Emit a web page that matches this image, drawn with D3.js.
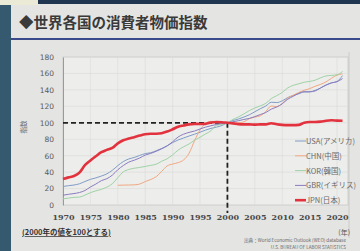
<!DOCTYPE html>
<html>
<head>
<meta charset="utf-8">
<script src="https://cdn.jsdelivr.net/npm/d3@7"></script>
<style>
  body { margin: 0; padding: 0; background: #e4e4e2; }
  svg { display: block; font-family: "Noto Sans CJK JP", "DejaVu Sans", sans-serif; }
</style>
</head>
<body>
<svg id="chart" width="360" height="251"></svg>
<script>
// consumer price index, 2000 = 100
const years = d3.range(1970, 2022);
const chnYears = d3.range(1980, 2022);

const usa = [22.5, 23.5, 24.3, 25.8, 28.6, 31.2, 33.0, 35.2, 37.9, 42.2,
             47.9, 52.8, 56.0, 57.8, 60.3, 62.5, 63.6, 66.0, 68.7, 72.0,
             75.9, 79.1, 81.5, 83.9, 86.1, 88.5, 91.1, 93.2, 94.7, 96.7,
             100, 102.8, 104.5, 106.9, 109.7, 113.4, 117.1, 120.4, 125.0, 124.6,
             126.7, 130.6, 133.3, 135.3, 137.5, 137.6, 139.4, 142.3, 145.8, 148.5,
             150.3, 157.4];
const chn = [24.0, 24.2, 24.3, 24.5, 25.5, 28.5, 31.0, 34.4, 40.9, 47.5,
             49.8, 51.5, 54.8, 62.9, 78.1, 91.4, 99.0, 101.8, 101.0, 99.6,
             100, 100.7, 99.9, 101.1, 105.0, 106.9, 108.5, 113.7, 120.4, 119.6,
             123.5, 130.0, 133.4, 136.9, 139.5, 141.5, 144.4, 146.7, 149.8, 154.2,
             158.0, 159.4];
const kor = [7.4, 8.4, 9.3, 9.6, 12.0, 15.0, 17.3, 19.0, 21.8, 25.8,
             33.2, 40.3, 43.2, 44.7, 45.7, 46.9, 48.2, 49.6, 53.2, 56.2,
             61.0, 66.7, 70.8, 74.2, 78.8, 82.4, 86.4, 90.2, 97.0, 97.8,
             100, 104.1, 107.0, 110.8, 114.8, 118.0, 120.6, 123.6, 129.4, 133.0,
             136.9, 142.4, 145.5, 147.4, 149.3, 150.3, 151.8, 154.7, 157.0, 157.6,
             158.4, 162.4];
const gbr = [11.9, 13.0, 13.9, 15.2, 17.6, 21.9, 25.5, 29.6, 32.0, 36.3,
             42.9, 48.0, 52.1, 54.5, 57.2, 60.7, 62.7, 65.3, 68.3, 71.9,
             76.9, 82.7, 86.1, 88.3, 90.0, 92.4, 94.7, 96.4, 97.9, 99.2,
             100, 101.2, 102.5, 104.0, 105.3, 107.5, 110.0, 112.5, 116.6, 119.2,
             123.1, 128.6, 132.2, 135.7, 137.7, 137.7, 138.7, 142.4, 146.0, 148.6,
             149.9, 153.8];
const jpn = [31.7, 33.6, 35.2, 39.3, 48.4, 54.2, 59.3, 64.2, 67.0, 69.4,
             75.0, 78.7, 80.9, 82.5, 84.4, 86.1, 86.6, 86.7, 87.3, 89.3,
             92.1, 95.2, 96.7, 98.1, 98.7, 98.6, 98.7, 100.4, 101.0, 100.7,
             100, 99.3, 98.4, 98.1, 98.1, 97.7, 98.1, 98.1, 99.5, 98.2,
             97.4, 97.1, 97.1, 97.4, 100.1, 101.0, 100.9, 101.4, 102.5, 103.0,
             102.6, 102.4];

const seriesNames = ["USA(アメリカ)", "CHN(中国)", "KOR(韓国)", "GBR(イギリス)", "JPN(日本)"];
const seriesColors = ["#7f9cc8", "#f0a882", "#9fd2a6", "#8a7cc0", "#e2323e"];
const xTicks = d3.range(1970, 2021, 5);
const yTicks = d3.range(0, 181, 20);

const series = [
    {name: seriesNames[0], yrs: years, vals: usa, color: seriesColors[0], w: 1},
    {name: seriesNames[1], yrs: chnYears, vals: chn, color: seriesColors[1], w: 1},
    {name: seriesNames[2], yrs: years, vals: kor, color: seriesColors[2], w: 1},
    {name: seriesNames[3], yrs: years, vals: gbr, color: seriesColors[3], w: 1},
    {name: seriesNames[4], yrs: years, vals: jpn, color: seriesColors[4], w: 2.6}
];

var svg = d3.select("#chart");

// slide background
svg.append("rect").attr("width", 360).attr("height", 251).attr("fill", "#e4e4e2");
svg.append("rect").attr("x", 0).attr("y", 0).attr("width", 40).attr("height", 5).attr("fill", "#ebead6");
svg.append("rect").attr("x", 38).attr("y", 0).attr("width", 322).attr("height", 4).attr("fill", "#1f3550");
svg.append("rect").attr("x", 0).attr("y", 5).attr("width", 11).attr("height", 246).attr("fill", "#35596f");
svg.append("rect").attr("x", 11).attr("y", 38).attr("width", 349).attr("height", 2).attr("fill", "#3b4a8a");

// title
svg.append("text")
    .attr("x", 19).attr("y", 28)
    .attr("font-size", 14.5).attr("font-weight", "bold")
    .attr("fill", "#3a3a3a")
    .text("◆世界各国の消費者物価指数");

var x = d3.scaleLinear().domain([1970, 2022]).range([63, 348]);
var y = d3.scaleLinear().domain([0, 180]).range([205, 57]);

// plot area
svg.append("rect")
    .attr("x", x(1970)).attr("y", y(180))
    .attr("width", x(2022) - x(1970)).attr("height", y(0) - y(180))
    .attr("fill", "#ededeb").attr("stroke", "#c8c8c8").attr("stroke-width", 0.8);

// frame line on the right
svg.append("line")
    .attr("x1", 349).attr("x2", 349).attr("y1", 52).attr("y2", 238)
    .attr("stroke", "#c4c4c4").attr("stroke-width", 0.8);

// grid
svg.append("g").selectAll("line")
    .data(yTicks.slice(1))
    .enter().append("line")
      .attr("x1", x(1970)).attr("x2", x(2022))
      .attr("y1", d => y(d)).attr("y2", d => y(d))
      .attr("stroke", "#dadada").attr("stroke-width", 0.6);
svg.append("g").selectAll("line")
    .data(xTicks.slice(1))
    .enter().append("line")
      .attr("x1", d => x(d)).attr("x2", d => x(d))
      .attr("y1", y(180)).attr("y2", y(0))
      .attr("stroke", "#dadada").attr("stroke-width", 0.6);

// axes
var yAxis = svg.append("g")
    .attr("transform", "translate(" + x(1970) + ",0)")
    .call(d3.axisLeft(y).tickValues(yTicks).tickSize(0).tickPadding(9));
yAxis.select(".domain").attr("stroke", "#9a9a9a").attr("stroke-width", 1);
yAxis.selectAll("text").attr("font-size", 7.5).attr("fill", "#5a5a5a")
    .attr("font-family", "DejaVu Sans");

var xAxis = svg.append("g")
    .attr("transform", "translate(0," + y(0) + ")")
    .call(d3.axisBottom(x).tickValues(xTicks).tickFormat(d3.format("d")).tickSize(0).tickPadding(9));
xAxis.select(".domain").remove();
xAxis.selectAll("text").attr("font-size", 8).attr("font-weight", "bold").attr("fill", "#4a4a4a")
    .attr("font-family", "DejaVu Serif");

// y label
svg.append("text")
    .attr("transform", "translate(26,127) rotate(-90)")
    .attr("text-anchor", "middle")
    .attr("font-size", 6.5).attr("fill", "#666")
    .text("指数");

// reference dashed lines at 2000 = 100
svg.append("line")
    .attr("x1", x(1970)).attr("x2", x(2000))
    .attr("y1", y(100)).attr("y2", y(100))
    .attr("stroke", "#222").attr("stroke-width", 1.8).attr("stroke-dasharray", "5,3");
svg.append("line")
    .attr("x1", x(2000)).attr("x2", x(2000))
    .attr("y1", y(100)).attr("y2", y(0) + 8)
    .attr("stroke", "#222").attr("stroke-width", 1.8).attr("stroke-dasharray", "5,3");

// series lines
var line = d3.line()
    .x(d => x(d[0]))
    .y(d => y(d[1]))
    .curve(d3.curveMonotoneX);

svg.append("g").selectAll("path")
    .data(series)
    .enter().append("path")
      .attr("fill", "none")
      .attr("stroke", d => d.color)
      .attr("stroke-width", d => d.w)
      .attr("d", d => line(d.yrs.map((yr, i) => [yr, d.vals[i]])));

// legend
var legend = svg.append("g").selectAll("g")
    .data(series)
    .enter().append("g")
      .attr("transform", (d, i) => "translate(295," + (141 + i * 14.8) + ")");
legend.append("line")
    .attr("x1", 0).attr("x2", 11)
    .attr("stroke", d => d.color)
    .attr("stroke-width", d => d.w);
legend.append("text")
    .attr("x", 11).attr("y", 3)
    .attr("font-size", 7.5).attr("fill", "#6a6a6a")
    .text(d => d.name);

// notes
svg.append("text")
    .attr("x", 22).attr("y", 235)
    .attr("font-size", 7.5).attr("font-weight", "bold").attr("fill", "#333")
    .attr("text-decoration", "underline")
    .text("(2000年の値を100とする)");
svg.append("text")
    .attr("x", 350).attr("y", 235)
    .attr("text-anchor", "end")
    .attr("font-size", 7).attr("fill", "#555")
    .text("(年)");
svg.append("text")
    .attr("x", 346).attr("y", 242)
    .attr("text-anchor", "end")
    .attr("font-size", 4.6).attr("fill", "#666")
    .text("出典：World Economic Outlook (WEO) database");
svg.append("text")
    .attr("x", 346).attr("y", 249)
    .attr("text-anchor", "end")
    .attr("font-size", 4.6).attr("fill", "#666")
    .text("U.S. BUREAU OF LABOR STATISTICS");
</script>
</body>
</html>
